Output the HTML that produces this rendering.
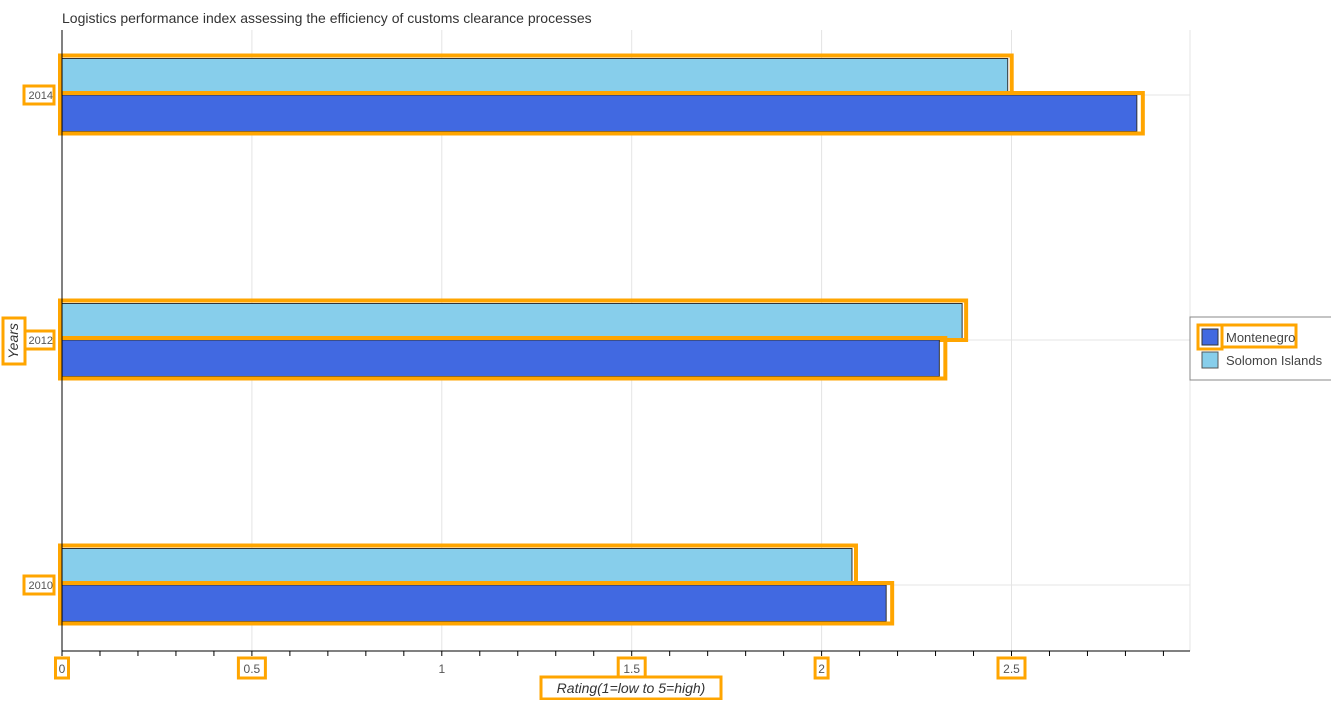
<!DOCTYPE html>
<html><head><meta charset="utf-8"><style>
body{margin:0;background:#fff;font-family:"Liberation Sans",sans-serif;}
</style></head><body>
<svg id="chart" width="1331" height="700" xmlns="http://www.w3.org/2000/svg" font-family="Liberation Sans, sans-serif">
<text x="62" y="23" font-size="14" fill="#333">Logistics performance index assessing the efficiency of customs clearance processes</text>
<g id="grid"></g><g id="bars"></g><g id="axes"></g>
<g>
<rect x="1190" y="317" width="145" height="63" fill="#fff" stroke="#888" stroke-width="1"/>
<rect x="1202" y="329" width="16" height="16" fill="#4169e1" stroke="#333"/>
<rect x="1198" y="325" width="24" height="24" fill="none" stroke="#ffa500" stroke-width="3"/>
<rect x="1222" y="325" width="74" height="22" fill="none" stroke="#ffa500" stroke-width="3"/>
<text x="1226" y="342" font-size="13" fill="#444">Montenegro</text>
<rect x="1202" y="352" width="16" height="16" fill="#87ceeb" stroke="#555"/>
<text x="1226" y="365" font-size="13" fill="#444">Solomon Islands</text>
</g>
</svg>
<script>
const years = ["2010","2012","2014"];
const montenegro = [2.17, 2.31, 2.83];
const solomon = [2.08, 2.37, 2.49];
const xTicks = [0,0.5,1,1.5,2,2.5];
const xTickLabels = ["0","0.5","1","1.5","2","2.5"];
const NS="http://www.w3.org/2000/svg";
const X0=62, K=379.8, Yb=651, xr=1190;
const xs=v=>X0+v*K;
const yc=i=>585-i*245;
function mk(tag,attrs,parent,txt){const e=document.createElementNS(NS,tag);for(const k in attrs)e.setAttribute(k,attrs[k]);if(txt!==undefined)e.textContent=txt;document.getElementById(parent).appendChild(e);return e;}
const g='grid';
xTicks.forEach((t,i)=>{
 const gl=mk('line',{x1:xs(t),x2:xs(t),y1:30,y2:Yb,stroke:'#e4e4e4'},g);
 
 
});
mk('line',{x1:xr,x2:xr,y1:30,y2:Yb,stroke:'#e4e4e4'},g);
years.forEach((y,i)=>{mk('line',{x1:X0,x2:xr,y1:yc(i),y2:yc(i),stroke:'#e4e4e4'},g);});
years.forEach((y,i)=>{
 const c=yc(i),h=36.5;
 const s=mk('rect',{x:X0,y:c-h,width:xs(solomon[i])-X0,height:h,fill:'#87ceeb',stroke:'#333','stroke-width':1},'bars');
 
 
 mk('rect',{x:X0-2,y:c-h-3,width:xs(solomon[i])-X0+6,height:h+3,fill:'none',stroke:'#ffa500','stroke-width':4},'bars');
 const m=mk('rect',{x:X0,y:c,width:xs(montenegro[i])-X0,height:h,fill:'#4169e1',stroke:'#333','stroke-width':1},'bars');
 
 
 mk('rect',{x:X0-2,y:c-2,width:xs(montenegro[i])-X0+8,height:h+4,fill:'none',stroke:'#ffa500','stroke-width':4},'bars');
 mk('rect',{x:24,y:c-9,width:30,height:18,fill:'#fff',stroke:'#ffa500','stroke-width':3},'axes');
 const t=mk('text',{x:53,y:c+4,'text-anchor':'end','font-size':11,fill:'#555'},'axes',y);
 
 
});
const a='axes';
mk('line',{x1:X0,x2:X0,y1:30,y2:Yb,stroke:'#000'},a);
mk('line',{x1:X0,x2:xr,y1:Yb,y2:Yb,stroke:'#000'},a);
for(let v=0;v<=2.95;v+=0.1){mk('line',{x1:xs(v),x2:xs(v),y1:Yb,y2:Yb+5,stroke:'#000'},a);}
xTicks.forEach((t,i)=>{
 const w=xTickLabels[i].length*7+6;
 if(i!==2) mk('rect',{x:xs(t)-w/2,y:658,width:w,height:20,fill:'#fff',stroke:'#ffa500','stroke-width':3},a);
 const e=mk('text',{x:xs(t),y:673,'text-anchor':'middle','font-size':12,fill:'#555'},a,xTickLabels[i]);
 
 
});
mk('rect',{x:541,y:677,width:180,height:22,fill:'#fff',stroke:'#ffa500','stroke-width':3},a);
const xt=mk('text',{x:631,y:693,'text-anchor':'middle','font-size':14,'font-style':'italic',fill:'#333'},a,'Rating(1=low to 5=high)');


mk('rect',{x:3,y:318,width:22,height:46,fill:'#fff',stroke:'#ffa500','stroke-width':3},a);
const yt=mk('text',{x:18,y:341,'text-anchor':'middle','font-size':14,'font-style':'italic',fill:'#333',transform:'rotate(-90 18 341)'},a,'Years');


</script>
</body></html>
